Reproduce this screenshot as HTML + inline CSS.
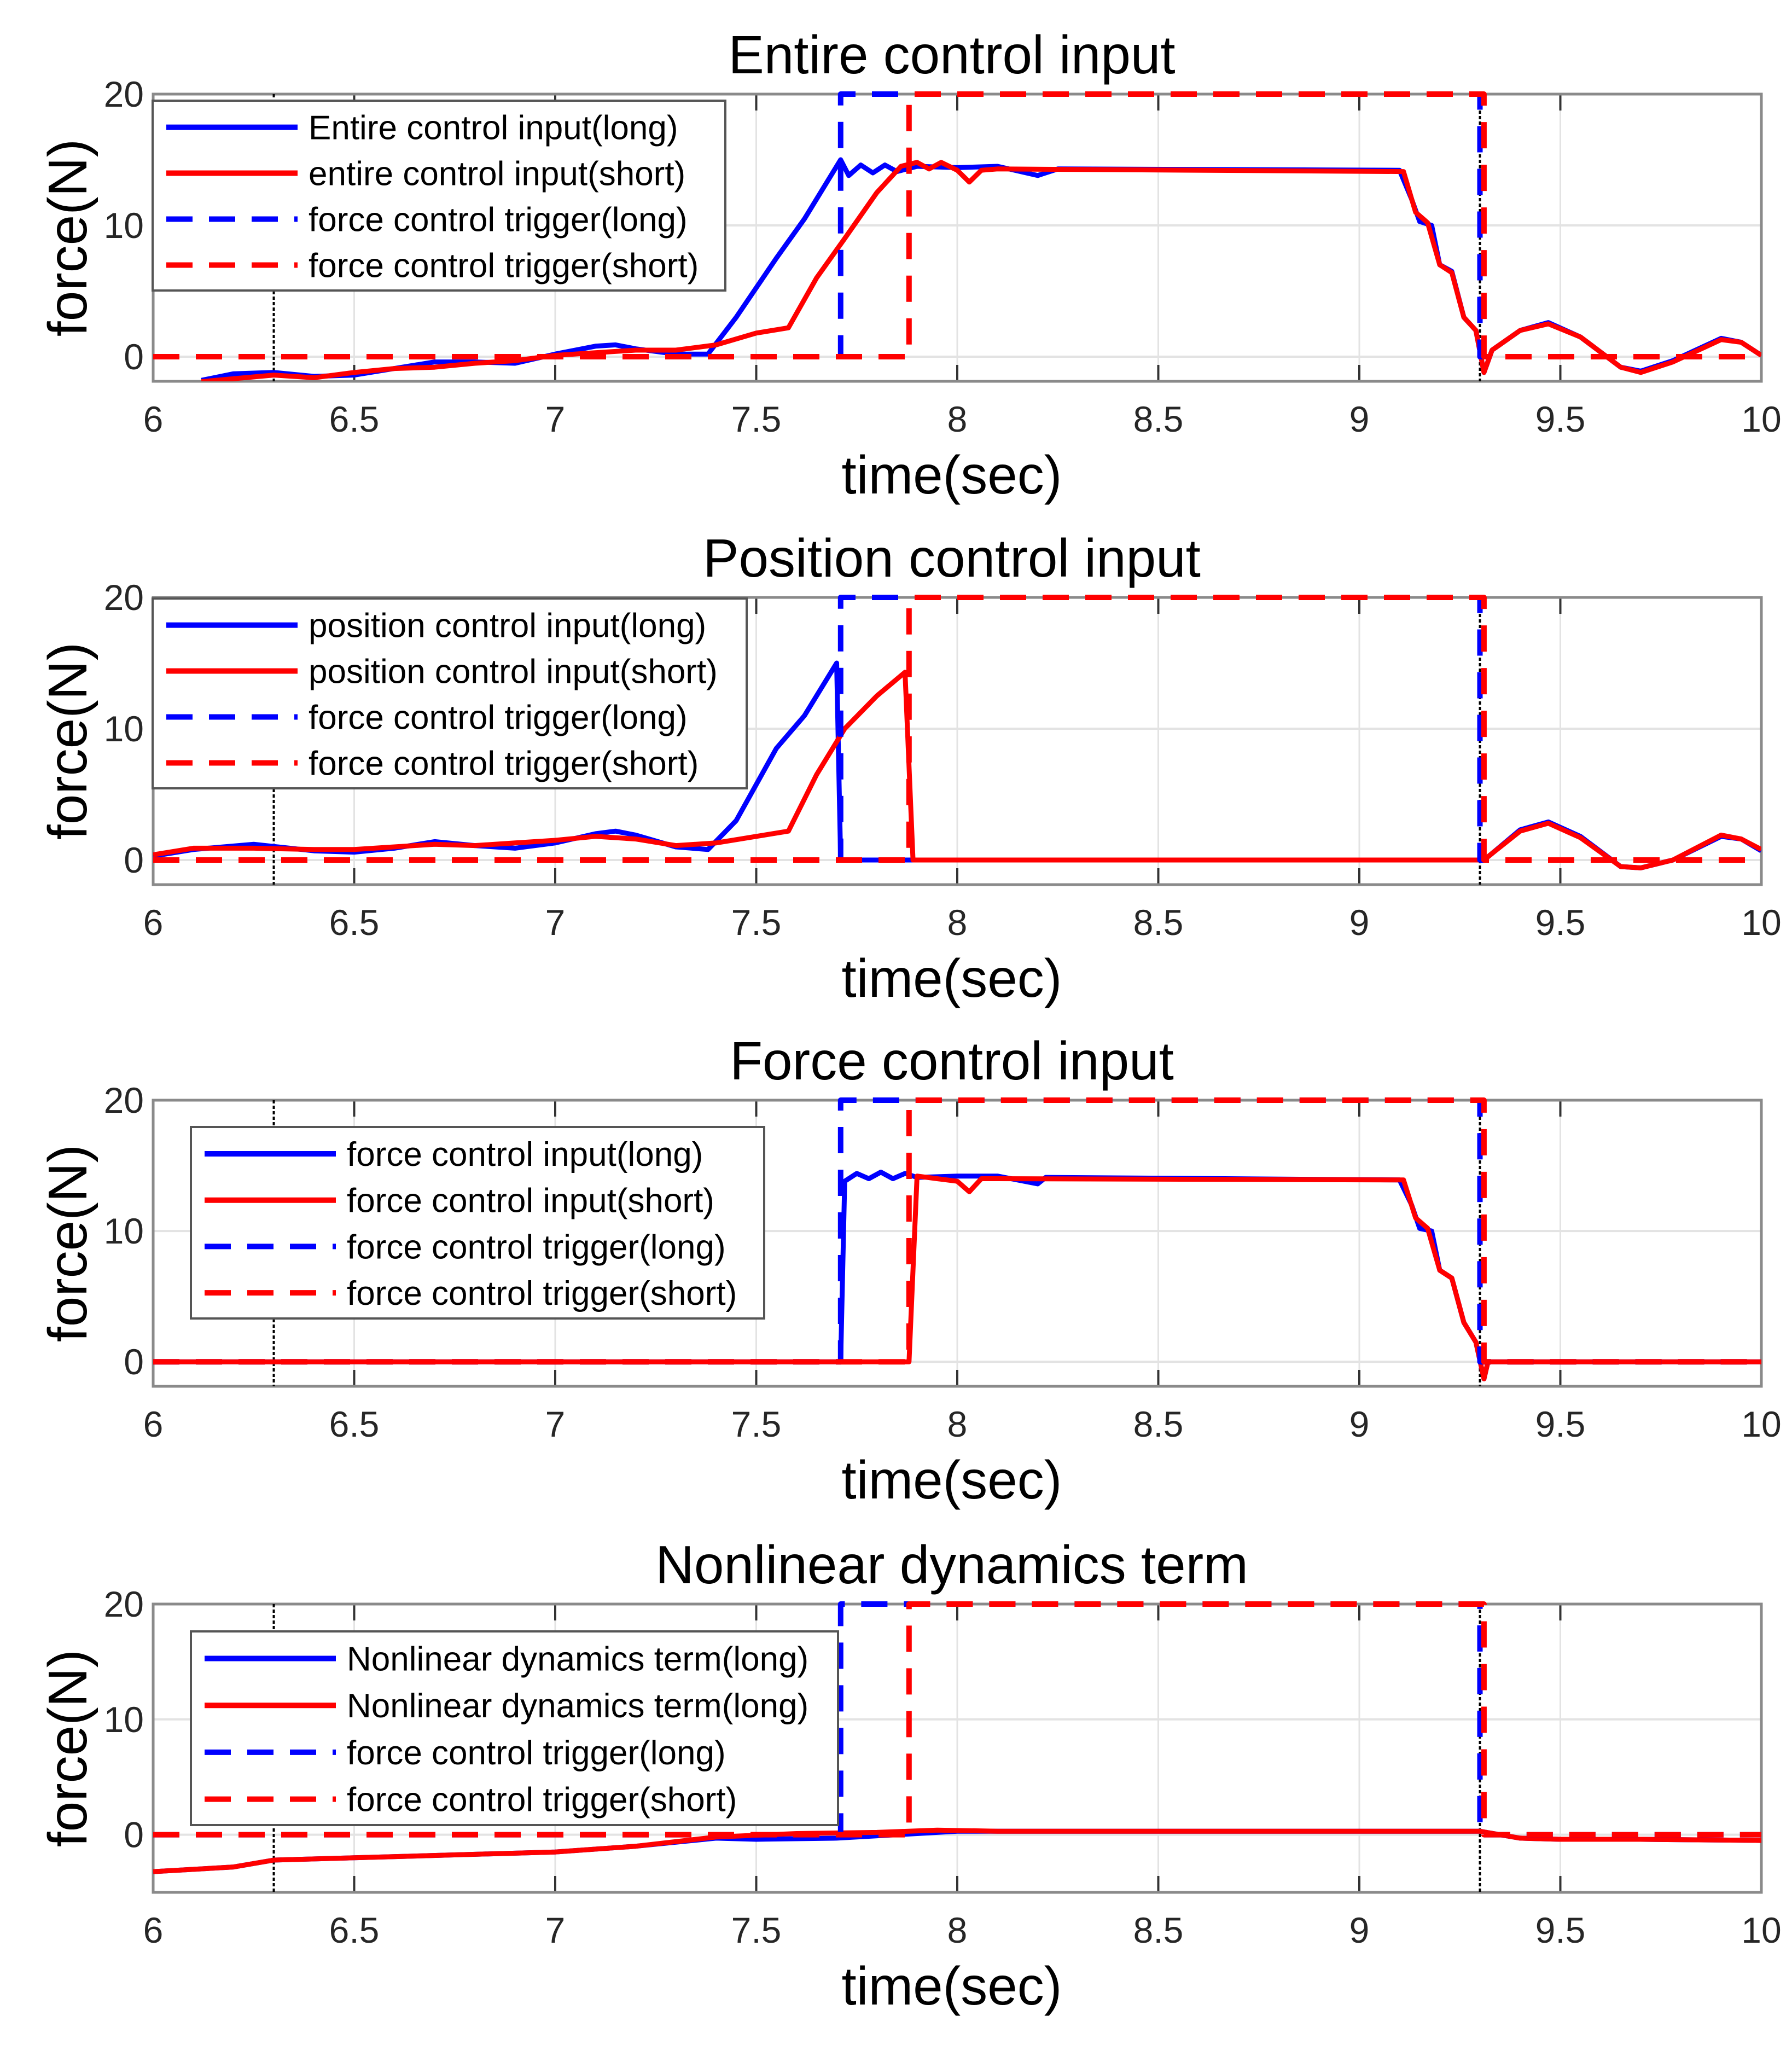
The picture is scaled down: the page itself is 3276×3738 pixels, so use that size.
<!DOCTYPE html>
<html><head><meta charset="utf-8"><style>
html,body{margin:0;padding:0;background:#fff;}
svg{display:block;font-family:"Liberation Sans",Arial,sans-serif;}
</style></head><body>
<svg id="fig" width="3276" height="3738" viewBox="0 0 3276 3738" xmlns="http://www.w3.org/2000/svg"></svg>
<script>
// ---- data ----
const xTicks = [6, 6.5, 7, 7.5, 8, 8.5, 9, 9.5, 10];
const xTickLabels = ["6","6.5","7","7.5","8","8.5","9","9.5","10"];
const yTicks = [0, 10, 20];
const yTickLabels = ["0","10","20"];
const markers = [6.3, 9.3];

const trigLongT = [6, 7.71, 7.71, 9.30, 9.30, 10];
const trigLongV = [0, 0, 20, 20, 0, 0];
const trigShortT = [6, 7.88, 7.88, 9.31, 9.31, 10];
const trigShortV = [0, 0, 20, 20, 0, 0];

const p1LongT = [6.12,6.2,6.3,6.4,6.5,6.6,6.7,6.8,6.9,7.0,7.1,7.15,7.2,7.3,7.38,7.45,7.55,7.62,7.71,7.73,7.76,7.79,7.82,7.85,7.9,8.0,8.1,8.2,8.25,9.1,9.13,9.15,9.18,9.2,9.23,9.26,9.29,9.31,9.33,9.4,9.47,9.55,9.65,9.7,9.78,9.9,9.95,10];
const p1LongV = [-1.8,-1.3,-1.2,-1.5,-1.4,-0.9,-0.4,-0.4,-0.5,0.2,0.8,0.9,0.6,0.2,0.2,3,7.5,10.5,15,13.8,14.6,14,14.6,14.1,14.5,14.4,14.5,13.8,14.3,14.2,12,10.3,10,7,6.5,3,2,-1.2,0.5,2,2.6,1.5,-0.8,-1.1,-0.3,1.4,1.1,0.1];
const p1ShortT = [6.12,6.3,6.4,6.5,6.6,6.7,6.8,6.9,7.0,7.1,7.2,7.3,7.4,7.5,7.58,7.65,7.72,7.8,7.86,7.9,7.93,7.96,8.0,8.03,8.06,8.1,9.11,9.14,9.17,9.2,9.23,9.26,9.29,9.31,9.33,9.4,9.47,9.55,9.65,9.7,9.78,9.9,9.95,10];
const p1ShortV = [-1.9,-1.4,-1.6,-1.2,-0.9,-0.8,-0.5,-0.3,0.1,0.3,0.5,0.5,0.9,1.8,2.2,6,9,12.5,14.5,14.8,14.3,14.8,14.2,13.3,14.2,14.3,14.1,11,10.2,7,6.4,3,2,-1.2,0.5,2,2.5,1.5,-0.8,-1.2,-0.4,1.3,1.1,0.1];

const p2LongT = [6,6.1,6.25,6.4,6.5,6.6,6.7,6.8,6.9,7.0,7.1,7.15,7.2,7.3,7.38,7.45,7.55,7.62,7.70,7.71,9.31,9.33,9.4,9.47,9.55,9.65,9.7,9.78,9.9,9.95,10];
const p2LongV = [0.3,0.8,1.2,0.7,0.6,0.9,1.4,1.1,0.9,1.3,2.0,2.2,1.9,1.0,0.8,3,8.5,11,15,0,0,0.5,2.3,2.9,1.8,-0.5,-0.6,0,1.8,1.6,0.7];
const p2ShortT = [6,6.1,6.25,6.4,6.5,6.6,6.7,6.8,6.9,7.0,7.1,7.2,7.3,7.4,7.5,7.58,7.65,7.72,7.8,7.87,7.89,9.31,9.33,9.4,9.47,9.55,9.65,9.7,9.78,9.9,9.95,10];
const p2ShortV = [0.4,0.9,0.9,0.8,0.8,1.0,1.2,1.1,1.3,1.5,1.8,1.6,1.1,1.3,1.8,2.2,6.5,10,12.5,14.3,0,0,0.5,2.2,2.8,1.7,-0.5,-0.6,0,1.9,1.6,0.8];

const p3LongT = [6,7.71,7.72,7.75,7.78,7.81,7.84,7.87,7.9,8.0,8.1,8.2,8.22,9.1,9.13,9.15,9.18,9.2,9.23,9.26,9.29,9.31,9.32,10];
const p3LongV = [0,0,13.8,14.4,14,14.5,14.0,14.4,14.1,14.2,14.2,13.6,14.1,13.9,12,10.2,10,7,6.4,3,1.5,-1.3,0,0];
const p3ShortT = [6,7.88,7.9,7.95,8.0,8.03,8.06,8.1,9.11,9.14,9.17,9.2,9.23,9.26,9.29,9.31,9.32,10];
const p3ShortV = [0,0,14.2,14.0,13.8,13,14,14.0,13.9,11,10.2,7,6.4,3,1.5,-1.3,0,0];

const p4LongT = [6,6.2,6.3,6.5,7.0,7.2,7.4,7.5,7.7,7.9,8.0,8.1,9.3,9.4,9.5,9.7,10];
const p4LongV = [-3.2,-2.8,-2.2,-2.0,-1.5,-1.0,-0.3,-0.4,-0.3,0.1,0.3,0.3,0.3,-0.3,-0.4,-0.4,-0.5];
const p4ShortT = [6,6.2,6.3,6.5,7.0,7.2,7.4,7.6,7.8,7.95,8.1,9.3,9.4,9.5,9.7,10];
const p4ShortV = [-3.2,-2.8,-2.2,-2.0,-1.5,-1.0,-0.2,0.1,0.2,0.4,0.3,0.3,-0.3,-0.4,-0.4,-0.5];

const titles = ["Entire control input","Position control input","Force control input","Nonlinear dynamics term"];
const legendLabels = [
 ["Entire control input(long)","entire control input(short)","force control trigger(long)","force control trigger(short)"],
 ["position control input(long)","position control input(short)","force control trigger(long)","force control trigger(short)"],
 ["force control input(long)","force control input(short)","force control trigger(long)","force control trigger(short)"],
 ["Nonlinear dynamics term(long)","Nonlinear dynamics term(long)","force control trigger(long)","force control trigger(short)"]
];

// ---- layout ----
const panels = [
 {top:172, bottom:697, ymin:-1.875, lg:{x:279,y:184,w:1047,h:347}, long:[p1LongT,p1LongV], short:[p1ShortT,p1ShortV]},
 {top:1092, bottom:1617, ymin:-1.875, lg:{x:279,y:1094,w:1086,h:347}, long:[p2LongT,p2LongV], short:[p2ShortT,p2ShortV]},
 {top:2011, bottom:2534, ymin:-1.875, lg:{x:349,y:2060,w:1048,h:350}, long:[p3LongT,p3LongV], short:[p3ShortT,p3ShortV]},
 {top:2932, bottom:3459, ymin:-5, lg:{x:349,y:2982,w:1183,h:354}, long:[p4LongT,p4LongV], short:[p4ShortT,p4ShortV]}
];
const L = 280, R = 3220;
const NS = "http://www.w3.org/2000/svg";
const svg = document.getElementById('fig');
function mk(tag, attrs, parent){ const e=document.createElementNS(NS,tag); for(const k in attrs) e.setAttribute(k,attrs[k]); (parent||svg).appendChild(e); return e; }
function xs(t){ return L + (t-6)/(10-6)*(R-L); }

panels.forEach((p,i)=>{
  const g = mk('g',{});
  
  
  const ys = v => p.bottom - (v-p.ymin)/(20-p.ymin)*(p.bottom-p.top);
  const cid = 'clip'+i;
  const cp = mk('clipPath',{id:cid},g); mk('rect',{x:L,y:p.top-6,width:R-L,height:p.bottom-p.top+6},cp);
  xTicks.forEach(t=>{ const l=mk('line',{x1:xs(t),x2:xs(t),y1:p.top,y2:p.bottom,stroke:'#e3e3e3','stroke-width':3},g);
      });
  yTicks.forEach(v=>{ const l=mk('line',{x1:L,x2:R,y1:ys(v),y2:ys(v),stroke:'#e3e3e3','stroke-width':4},g);
      });
  xTicks.forEach((t,k)=>{
    mk('line',{x1:xs(t),x2:xs(t),y1:p.bottom,y2:p.bottom-30,stroke:'#333','stroke-width':4},g);
    mk('line',{x1:xs(t),x2:xs(t),y1:p.top,y2:p.top+30,stroke:'#333','stroke-width':4},g);
    const tx=mk('text',{x:xs(t),y:p.bottom+92,'font-size':66,'text-anchor':'middle',fill:'#262626'},g);
    tx.textContent=xTickLabels[k];
     
  });
  yTicks.forEach((v,k)=>{
    const tx=mk('text',{x:263,y:ys(v)+23,'font-size':66,'text-anchor':'end',fill:'#262626'},g);
    tx.textContent=yTickLabels[k];
     
  });
  const bx=mk('rect',{x:L,y:p.top,width:R-L,height:p.bottom-p.top,fill:'none',stroke:'#8a8a8a','stroke-width':5},g);
   
  markers.forEach(t=>{ const l=mk('line',{x1:xs(t),x2:xs(t),y1:p.top,y2:p.bottom,stroke:'#000','stroke-width':4,'stroke-dasharray':'6,4'},g);
      });
  const dg = mk('g',{'clip-path':'url(#'+cid+')'},g);
  function poly(T,V,color,dash,name){
    const pts=T.map((t,k)=>xs(t).toFixed(1)+','+ys(V[k]).toFixed(1)).join(' ');
    const a={points:pts,fill:'none',stroke:color,'stroke-width':dash?10:9,'stroke-linejoin':'round'};
    if(dash) a['stroke-dasharray']='48,30';
    const e=mk('polyline',a,dg);
     
  }
  poly(p.long[0],p.long[1],'#0000ff',false,'series-long');
  poly(p.short[0],p.short[1],'#ff0000',false,'series-short');
  poly(trigLongT,trigLongV,'#0000ff',true,'trigger-long');
  poly(trigShortT,trigShortV,'#ff0000',true,'trigger-short');
  const ti=mk('text',{x:1740,y:p.top-38,'font-size':98,'text-anchor':'middle',fill:'#000'},g);
  ti.textContent=titles[i];  
  const xl=mk('text',{x:1740,y:p.bottom+205,'font-size':98,'text-anchor':'middle',fill:'#000'},g);
  xl.textContent='time(sec)';  
  const ymid=(p.top+p.bottom)/2;
  const yl=mk('text',{x:0,y:0,'font-size':100,'text-anchor':'middle',fill:'#000',transform:'translate(158,'+ymid+') rotate(-90)'},g);
  yl.textContent='force(N)';  
  const lg=p.lg;
  const lgg=mk('g',{},g);
   
  mk('rect',{x:lg.x,y:lg.y,width:lg.w,height:lg.h,fill:'#fff',stroke:'#555','stroke-width':4},lgg);
  const colors=['#0000ff','#ff0000','#0000ff','#ff0000'];
  for(let k=0;k<4;k++){
    const cy=lg.y+lg.h*(0.14+0.242*k);
    const a={x1:lg.x+25,x2:lg.x+265,y1:cy,y2:cy,stroke:colors[k],'stroke-width':10};
    if(k>=2) a['stroke-dasharray']='48,30';
    mk('line',a,lgg);
    const tx=mk('text',{x:lg.x+285,y:cy+22,'font-size':62,fill:'#000'},lgg);
    tx.textContent=legendLabels[i][k];
     
  }
});
</script>
</body></html>
